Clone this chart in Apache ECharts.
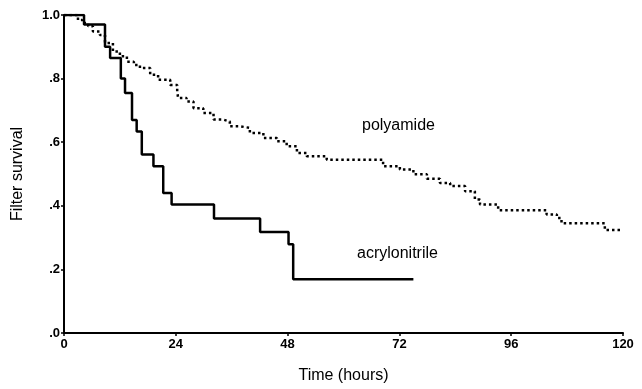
<!DOCTYPE html>
<html>
<head>
<meta charset="utf-8">
<script src="https://cdn.jsdelivr.net/npm/echarts@6/dist/echarts.min.js"></script>
<style>
  html, body { margin: 0; padding: 0; background: #fff; }
  #chart { width: 642px; height: 389px; }
</style>
</head>
<body>
<div id="chart"></div>
<script>
// Kaplan-Meier steps: [time (h), survival after the drop]
const acrylonitrile = [
  [0, 1.0], [4.3, 0.97], [8.8, 0.90], [9.9, 0.865], [12.2, 0.80], [13.1, 0.755],
  [14.6, 0.67], [15.6, 0.634], [16.7, 0.561], [19.2, 0.524], [21.3, 0.44],
  [23.1, 0.404], [32.2, 0.36], [42.1, 0.318], [48.2, 0.279], [49.2, 0.169],
  [75.0, 0.169]
];

const polyamide = [
  [0, 1.0], [3.0, 0.984], [3.9, 0.975], [5.2, 0.965], [6.2, 0.948], [7.7, 0.937],
  [8.8, 0.912], [10.5, 0.885], [12.0, 0.87], [13.5, 0.853], [15.0, 0.843],
  [16.3, 0.833], [18.5, 0.812], [20.2, 0.796], [22.8, 0.78], [24.3, 0.76],
  [24.5, 0.739], [26.3, 0.728], [27.8, 0.707], [29.9, 0.692], [32.1, 0.671],
  [34.2, 0.665], [35.6, 0.65], [37.8, 0.645], [39.9, 0.629], [42.8, 0.613],
  [45.7, 0.603], [47.8, 0.587], [50.0, 0.566], [52.1, 0.556], [56.4, 0.545],
  [68.5, 0.524], [72.1, 0.514], [75.0, 0.499], [77.9, 0.485], [80.7, 0.472],
  [82.9, 0.462], [86.1, 0.446], [88.2, 0.42], [89.3, 0.404], [93.2, 0.386],
  [103.6, 0.373], [105.8, 0.362], [106.8, 0.345], [116.1, 0.324], [119.8, 0.324]
];

const xTicks = [0, 24, 48, 72, 96, 120];
const yTickLabels = { 0: '.0', 0.2: '.2', 0.4: '.4', 0.6: '.6', 0.8: '.8', 1: '1.0' };

const font = 'Liberation Sans, Arial, sans-serif';
const chart = echarts.init(document.getElementById('chart'));

chart.setOption({
  animation: false,
  grid: { left: 64, right: 19, top: 15, bottom: 55 },
  xAxis: {
    type: 'value',
    min: 0,
    max: 120,
    interval: 24,
    name: 'Time (hours)',
    nameLocation: 'middle',
    nameGap: 35,
    nameTextStyle: { color: '#000', fontSize: 16, fontFamily: font },
    axisLine: { lineStyle: { color: '#000', width: 2 } },
    axisTick: { show: true, length: 3, lineStyle: { color: '#000', width: 1.5 } },
    axisLabel: {
      color: '#000', fontSize: 13, fontWeight: 'bold', fontFamily: font, margin: 5,
      formatter: (v) => (xTicks.includes(v) ? String(v) : '')
    },
    splitLine: { show: false }
  },
  yAxis: {
    type: 'value',
    min: 0,
    max: 1,
    interval: 0.2,
    name: 'Filter survival',
    nameLocation: 'middle',
    nameRotate: 90,
    nameGap: 38,
    nameTextStyle: { color: '#000', fontSize: 16, fontFamily: font },
    axisLine: { show: true, lineStyle: { color: '#000', width: 2 } },
    axisTick: { show: true, length: 3, lineStyle: { color: '#000', width: 1.5 } },
    axisLabel: {
      color: '#000', fontSize: 13, fontWeight: 'bold', fontFamily: font, margin: 4,
      formatter: (v) => yTickLabels[Math.round(v * 10) / 10] || ''
    },
    splitLine: { show: false }
  },
  series: [
    {
      name: 'polyamide',
      type: 'line',
      step: 'end',
      data: polyamide,
      symbol: 'none',
      lineStyle: { color: '#000', width: 2.5, type: [2.5, 3] },
      z: 2
    },
    {
      name: 'acrylonitrile',
      type: 'line',
      step: 'end',
      data: acrylonitrile,
      symbol: 'none',
      lineStyle: { color: '#000', width: 2.5 },
      z: 3
    }
  ],
  graphic: [
    {
      type: 'text', left: 362, top: 118,
      style: { text: 'polyamide', fill: '#000', font: '16px ' + font }
    },
    {
      type: 'text', left: 357, top: 246,
      style: { text: 'acrylonitrile', fill: '#000', font: '16px ' + font }
    }
  ]
});
</script>
</body>
</html>
